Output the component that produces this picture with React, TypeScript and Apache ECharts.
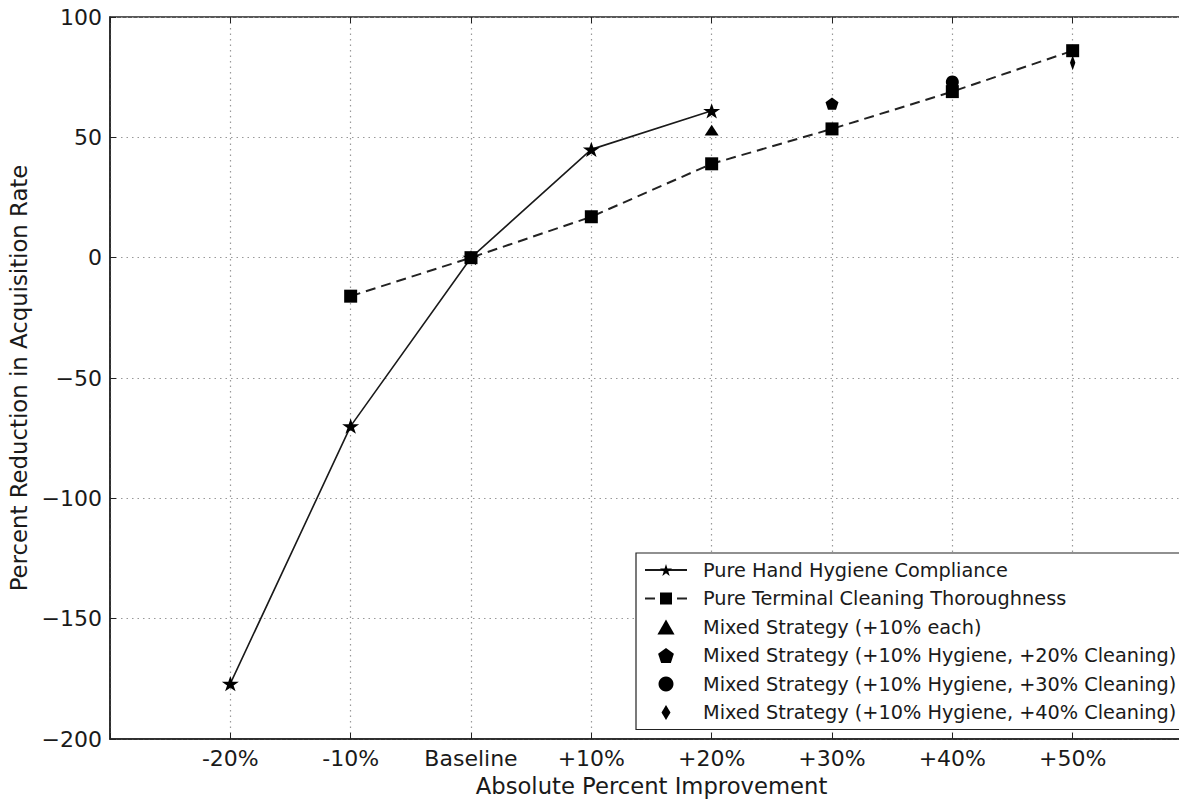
import React, { useEffect, useRef } from "react";
import * as echarts from "echarts";

const categories = ["-20%", "-10%", "Baseline", "+10%", "+20%", "+30%", "+40%", "+50%"];
const xValues = [-20, -10, 0, 10, 20, 30, 40, 50];

const handHygieneX = [-20, -10, 0, 10, 20];
const handHygiene = [-177, -70, 0, 45, 61];

const cleaningX = [-10, 0, 10, 20, 30, 40, 50];
const cleaning = [-16, 0, 17, 39, 53.5, 69, 86];

const mixedEachX = [20];
const mixedEach = [53];
const mixed20X = [30];
const mixed20 = [64];
const mixed30X = [40];
const mixed30 = [73];
const mixed40X = [50];
const mixed40 = [81];

const yTicks = [-200, -150, -100, -50, 0, 50, 100];

const seriesNames = [
  "Pure Hand Hygiene Compliance",
  "Pure Terminal Cleaning Thoroughness",
  "Mixed Strategy (+10% each)",
  "Mixed Strategy (+10% Hygiene, +20% Cleaning)",
  "Mixed Strategy (+10% Hygiene, +30% Cleaning)",
  "Mixed Strategy (+10% Hygiene, +40% Cleaning)",
];

const STAR =
  "path://M0,-100 L22.5,-30.9 L95.1,-30.9 L36.3,11.8 L58.8,80.9 L0,38.2 L-58.8,80.9 L-36.3,11.8 L-95.1,-30.9 L-22.5,-30.9 Z";
const PENTAGON = "path://M0,-100 L95.1,-30.9 L58.8,80.9 L-58.8,80.9 L-95.1,-30.9 Z";
const TRIANGLE = "path://M0,-100 L100,75 L-100,75 Z";
const THIN_DIAMOND = "path://M0,-100 L60,0 L0,100 L-60,0 Z";

const FONT = "DejaVu Sans";
const INK = "#1a1a1a";

function pairs(xs: number[], ys: number[]) {
  return ys.map((v, i) => [xs[i], v]);
}

export default function App() {
  const ref = useRef<HTMLDivElement>(null);

  useEffect(() => {
    if (!ref.current) return;
    const chart = echarts.init(ref.current, undefined, { renderer: "svg" });
    const scatterBase = {
      type: "scatter" as const,
      itemStyle: { color: "#000", opacity: 1 },
      symbolKeepAspect: true,
      z: 5,
    };
    chart.setOption({
      animation: false,
      backgroundColor: "#fff",
      textStyle: { fontFamily: FONT },
      grid: {
        left: 110,
        top: 17,
        right: 0,
        bottom: 60,
        outerBoundsMode: "none",
        containLabel: false,
        show: true,
        borderColor: "#222",
        borderWidth: 1.5,
        backgroundColor: "transparent",
      },
      xAxis: [
        {
          type: "value",
          min: -30,
          max: 60,
          interval: 10,
          name: "Absolute Percent Improvement",
          nameLocation: "middle",
          nameGap: 35,
          nameTextStyle: { fontSize: 22.7, color: INK, fontFamily: FONT },
          axisLine: { show: true, onZero: false, lineStyle: { color: "#222", width: 1.5 } },
          axisTick: { show: true, inside: true, length: 6, lineStyle: { color: "#222" } },
          axisLabel: {
            fontSize: 22,
            color: INK,
            fontFamily: FONT,
            margin: 8,
            formatter: (v: number) => {
              const i = xValues.indexOf(v);
              return i >= 0 ? categories[i] : "";
            },
          },
          splitLine: {
            show: true,
            lineStyle: { color: "#999", type: [1.5, 4], width: 1.2 },
          },
        },
        {
          type: "value",
          position: "top",
          min: -30,
          max: 60,
          interval: 10,
          axisLine: { show: false, onZero: false },
          axisTick: { show: true, inside: true, length: 6, lineStyle: { color: "#222" } },
          axisLabel: { show: false },
          splitLine: { show: false },
        },
      ],
      yAxis: {
        type: "value",
        min: yTicks[0],
        max: yTicks[yTicks.length - 1],
        interval: 50,
        name: "Percent Reduction in Acquisition Rate",
        nameLocation: "middle",
        nameGap: 76,
        nameTextStyle: { fontSize: 22.8, color: INK, fontFamily: FONT },
        axisLine: { show: true, onZero: false, lineStyle: { color: "#222", width: 1.5 } },
        axisTick: { show: true, inside: true, length: 6, lineStyle: { color: "#222" } },
        axisLabel: {
          fontSize: 22,
          color: INK,
          fontFamily: FONT,
          margin: 8,
          formatter: (v: number) => String(v).replace("-", "\u2212"),
        },
        splitLine: {
          show: true,
          lineStyle: { color: "#999", type: [1.5, 4], width: 1.2 },
        },
      },
      legend: {
        orient: "vertical",
        left: 636,
        top: 553,
        padding: [6, 14, 6, 8],
        backgroundColor: "#fff",
        borderColor: "#222",
        borderWidth: 1.2,
        itemWidth: 42,
        itemHeight: 15,
        itemGap: 6.5,
        data: seriesNames,
        textStyle: {
          fontSize: 19.3,
          color: INK,
          fontFamily: FONT,
          lineHeight: 22,
          padding: [0, 0, 0, 11],
        },
      },
      series: [
        {
          name: seriesNames[0],
          type: "line",
          data: pairs(handHygieneX, handHygiene),
          symbol: STAR,
          symbolSize: [17, 16],
          symbolKeepAspect: true,
          showAllSymbol: true,
          lineStyle: { color: INK, width: 1.6, type: "solid" },
          itemStyle: { color: "#000" },
          z: 4,
        },
        {
          name: seriesNames[1],
          type: "line",
          data: pairs(cleaningX, cleaning),
          symbol: "rect",
          symbolSize: 13,
          showAllSymbol: true,
          lineStyle: { color: "#222", width: 2, type: [10, 6] },
          itemStyle: { color: "#000" },
          z: 4,
        },
        {
          ...scatterBase,
          name: seriesNames[2],
          data: pairs(mixedEachX, mixedEach),
          symbol: TRIANGLE,
          symbolSize: [14, 12.5],
        },
        {
          ...scatterBase,
          name: seriesNames[3],
          data: pairs(mixed20X, mixed20),
          symbol: PENTAGON,
          symbolSize: 13,
        },
        {
          ...scatterBase,
          name: seriesNames[4],
          data: pairs(mixed30X, mixed30),
          symbol: "circle",
          symbolSize: 13,
        },
        {
          ...scatterBase,
          name: seriesNames[5],
          data: pairs(mixed40X, mixed40),
          symbol: THIN_DIAMOND,
          symbolSize: [9, 15],
        },
      ],
    });
    return () => chart.dispose();
  }, []);

  return (
    <div
      ref={ref}
      style={{ position: "fixed", left: 0, top: 0, width: 1193, height: 799, overflow: "hidden" }}
    />
  );
}
